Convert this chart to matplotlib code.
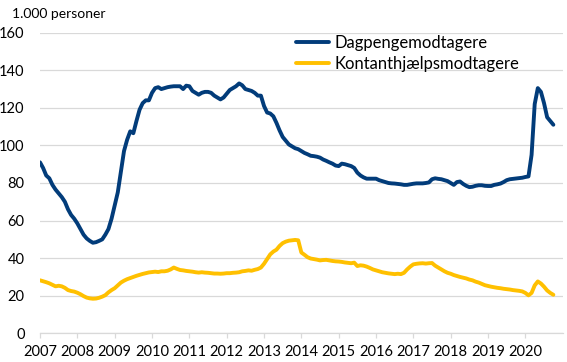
import numpy as np
import matplotlib.pyplot as plt

# Monthly data, Jan 2007 - Oct 2020 (1.000 personer)
years = list(range(2007, 2021))

dagpenge = [
    # 2007
    91, 88, 84, 82.5, 79, 76.5, 74.5, 72.5, 70, 66, 63, 61,
    # 2008
    58.5, 55.5, 52.5, 50.5, 49.2, 48.2, 48.5, 49.2, 50, 52.5, 55.5, 61,
    # 2009
    68, 75, 86, 97, 103, 107.5, 106.5, 113, 119, 122.5, 124, 124,
    # 2010
    128, 130.5, 131, 130, 130.5, 131, 131.3, 131.5, 131.5, 131.5, 130, 131.8,
    # 2011
    131.5, 129, 128, 127, 128, 128.5, 128.5, 128, 126.5, 125.5, 124.5, 125.5,
    # 2012
    127.5, 129.5, 130.5, 131.5, 133, 132, 130, 129.5, 129, 128, 126.5, 126.5,
    # 2013
    121, 117.5, 117, 115.5, 112, 108, 104.5, 102.5, 100.5, 99.5, 98.5, 98,
    # 2014
    97, 96, 95.3, 94.5, 94.3, 94, 93.5, 92.5, 91.8, 91, 90.3, 89.3,
    # 2015
    89, 90.3, 90, 89.5, 89, 88, 85.5, 84, 83, 82.3, 82.3, 82.3,
    # 2016
    82.3, 81.5, 81, 80.5, 80, 79.8, 79.7, 79.5, 79.3, 79, 79, 79.3,
    # 2017
    79.6, 79.8, 79.8, 79.8, 80, 80.3, 82, 82.5, 82.2, 82, 81.5, 81,
    # 2018
    80, 79, 80.5, 80.8, 79.5, 78.5, 77.8, 78, 78.5, 78.8, 78.8, 78.5,
    # 2019
    78.4, 78.4, 79, 79.3, 79.7, 80.5, 81.5, 82, 82.2, 82.4, 82.6, 82.8,
    # 2020
    83.2, 83.5, 95, 122, 130.5, 128.5, 122.5, 115, 113, 111,
]

kontant = [
    # 2007
    28.2, 27.7, 27.2, 26.6, 25.8, 25, 25.3, 25, 24.2, 23, 22.5, 22.2,
    # 2008
    21.6, 20.8, 19.8, 19, 18.6, 18.4, 18.5, 18.9, 19.5, 20.3, 21.8, 23,
    # 2009
    24, 25.5, 27, 28, 28.8, 29.4, 30, 30.6, 31.1, 31.6, 32, 32.4,
    # 2010
    32.6, 32.8, 32.6, 33, 33, 33.3, 34, 35, 34.3, 33.7, 33.5, 33.2,
    # 2011
    33, 32.8, 32.5, 32.3, 32.5, 32.3, 32.2, 32, 31.8, 31.8, 31.7, 31.8,
    # 2012
    32, 32, 32.2, 32.3, 32.5, 33, 33.2, 33.5, 33.3, 33.8, 34.2, 35,
    # 2013
    37, 39.5, 42, 43.5, 44.5, 46.5, 48, 48.8, 49.3, 49.5, 49.7, 49.5,
    # 2014
    43, 41.8, 40.5, 39.8, 39.5, 39.2, 38.8, 39, 39.1, 38.8, 38.5, 38.3,
    # 2015
    38.2, 38, 37.7, 37.5, 37.3, 37.6, 35.8, 36.2, 36, 35.5, 34.8, 34,
    # 2016
    33.5, 33, 32.5, 32.2, 31.9, 31.7, 31.5, 31.7, 31.5, 32.2, 34, 35.5,
    # 2017
    36.7, 37, 37.2, 37.3, 37.1, 37.3, 37.4, 36, 35, 34, 33, 32.2,
    # 2018
    31.7, 31, 30.5, 30, 29.6, 29.2, 28.6, 28.2, 27.5, 27, 26.3, 25.6,
    # 2019
    25.2, 24.8, 24.5, 24.2, 24, 23.7, 23.5, 23.3, 23, 22.8, 22.6, 22.3,
    # 2020
    21.5, 20.2, 21.5, 25.5, 27.6, 26.5, 24.8, 22.8, 21.5, 20.5,
]

plt.rcParams['font.family'] = ['Lato', 'DejaVu Sans']

fig = plt.figure(figsize=(5.67, 3.62), dpi=100)
ax = fig.add_axes([40 / 567, 28.7 / 362, 522.7 / 567, 300.6 / 362])

x = np.arange(len(dagpenge))
ax.plot(x, dagpenge, color='#023C7A', lw=2.8, label='Dagpengemodtagere',
        solid_joinstyle='round', solid_capstyle='round')
ax.plot(x, kontant, color='#FFC000', lw=2.8, label='Kontanthjælpsmodtagere',
        solid_joinstyle='round', solid_capstyle='round')

ax.set_xlim(0, 168)
ax.set_ylim(0, 160)
ax.set_yticks(range(0, 161, 20))
ax.set_xticks([12 * i for i in range(len(years))])
ax.set_xticklabels([str(y) for y in years])

ax.grid(axis='y', color='#D9D9D9', lw=0.9)
ax.set_axisbelow(True)
for s in ['left', 'right', 'top']:
    ax.spines[s].set_visible(False)
ax.spines['bottom'].set_color('#D9D9D9')
ax.spines['bottom'].set_linewidth(0.9)
ax.tick_params(axis='y', length=0, pad=11, labelsize=10.5, colors='black')
ax.tick_params(axis='x', length=3.5, width=0.9, color='#D9D9D9', pad=5,
               labelsize=10.5, labelcolor='black')

fig.text(12 / 567, 1 - 14 / 362, '1.000 personer', fontsize=10, va='center')

ax.legend(loc='upper left', bbox_to_anchor=(296 / 567, 1 - 35 / 362),
          bbox_transform=fig.transFigure, frameon=False, fontsize=12,
          handlelength=2.0, handletextpad=0.3, labelspacing=0.3,
          borderaxespad=0, borderpad=0)

fig.savefig('out.png', dpi=100)
